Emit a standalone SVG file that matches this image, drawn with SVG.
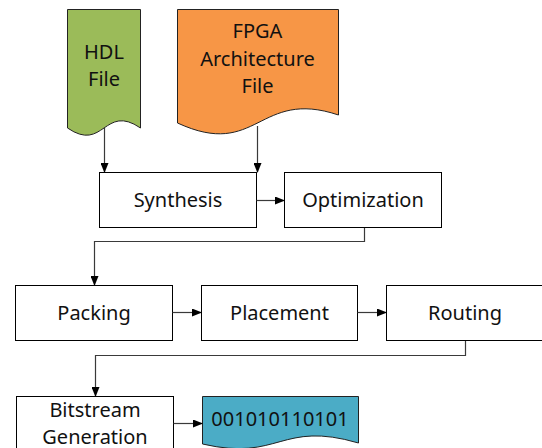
<svg xmlns="http://www.w3.org/2000/svg" width="542" height="448" viewBox="0 0 542 448">
<defs>
<marker id="ah" markerWidth="10" markerHeight="8" refX="9" refY="4" orient="auto" markerUnits="userSpaceOnUse">
<path d="M0,0 L10,4 L0,8 Z" fill="#000"/>
</marker>
<style>
.box{fill:#fff;stroke:#000;stroke-width:1}
.doc{stroke:#222;stroke-width:1}
.t{font-family:"Noto Sans","Open Sans",sans-serif;font-size:20px;fill:#111;text-anchor:middle}
.c{fill:none;stroke:#3a3a3a;stroke-width:1.2;marker-end:url(#ah)}
</style>
</defs>
<rect width="542" height="448" fill="#fff"/>
<g id="hdl">
<path class="doc" fill="#9BBB59" d="M67.5,9.5 L140.5,9.5 L140.5,128 C104,103 104,153 67.5,128 Z"/>
<text class="t" x="104" y="59">HDL</text>
<text class="t" x="104" y="86">File</text>
</g>
<g id="fpga">
<path class="doc" fill="#F79646" d="M177.5,9.5 L338.5,9.5 L338.5,115 C258,88 258,160 177.5,123 Z"/>
<text class="t" x="257.5" y="38">FPGA</text>
<text class="t" x="257.5" y="66">Architecture</text>
<text class="t" x="257.5" y="93">File</text>
</g>
<g id="synthesis">
<rect class="box" x="99.5" y="172.5" width="157" height="55"/>
<text class="t" x="178" y="207">Synthesis</text>
</g>
<g id="optimization">
<rect class="box" x="284.5" y="172.5" width="157" height="55"/>
<text class="t" x="363" y="207">Optimization</text>
</g>
<g id="packing">
<rect class="box" x="15.5" y="285.5" width="157" height="55"/>
<text class="t" x="94" y="320">Packing</text>
</g>
<g id="placement">
<rect class="box" x="201.5" y="285.5" width="156" height="55"/>
<text class="t" x="279.5" y="320">Placement</text>
</g>
<g id="routing">
<rect class="box" x="386.5" y="285.5" width="157" height="55"/>
<text class="t" x="465" y="320">Routing</text>
</g>
<g id="bitstream">
<rect class="box" x="16.5" y="396.5" width="157" height="56"/>
<text class="t" x="95" y="417">Bitstream</text>
<text class="t" x="95" y="444">Generation</text>
</g>
<g id="data">
<path class="doc" fill="#4BACC6" d="M202.5,396.5 L358.5,396.5 L358.5,443 C280,420 280,462 202.5,444 Z"/>
<text class="t" x="280" y="426">001010110101</text>
</g>
<g id="connectors">
<path class="c" d="M104.5,128 V172"/>
<path class="c" d="M257.5,126 V172"/>
<path class="c" d="M256.5,200.5 H284"/>
<path class="c" d="M364.5,228 V241.5 H94.5 V285"/>
<path class="c" d="M172.5,312.5 H201"/>
<path class="c" d="M357.5,312.5 H386"/>
<path class="c" d="M465.5,341 V355.5 H95.5 V396"/>
<path class="c" d="M173.5,423.5 H202"/>
</g>
</svg>
